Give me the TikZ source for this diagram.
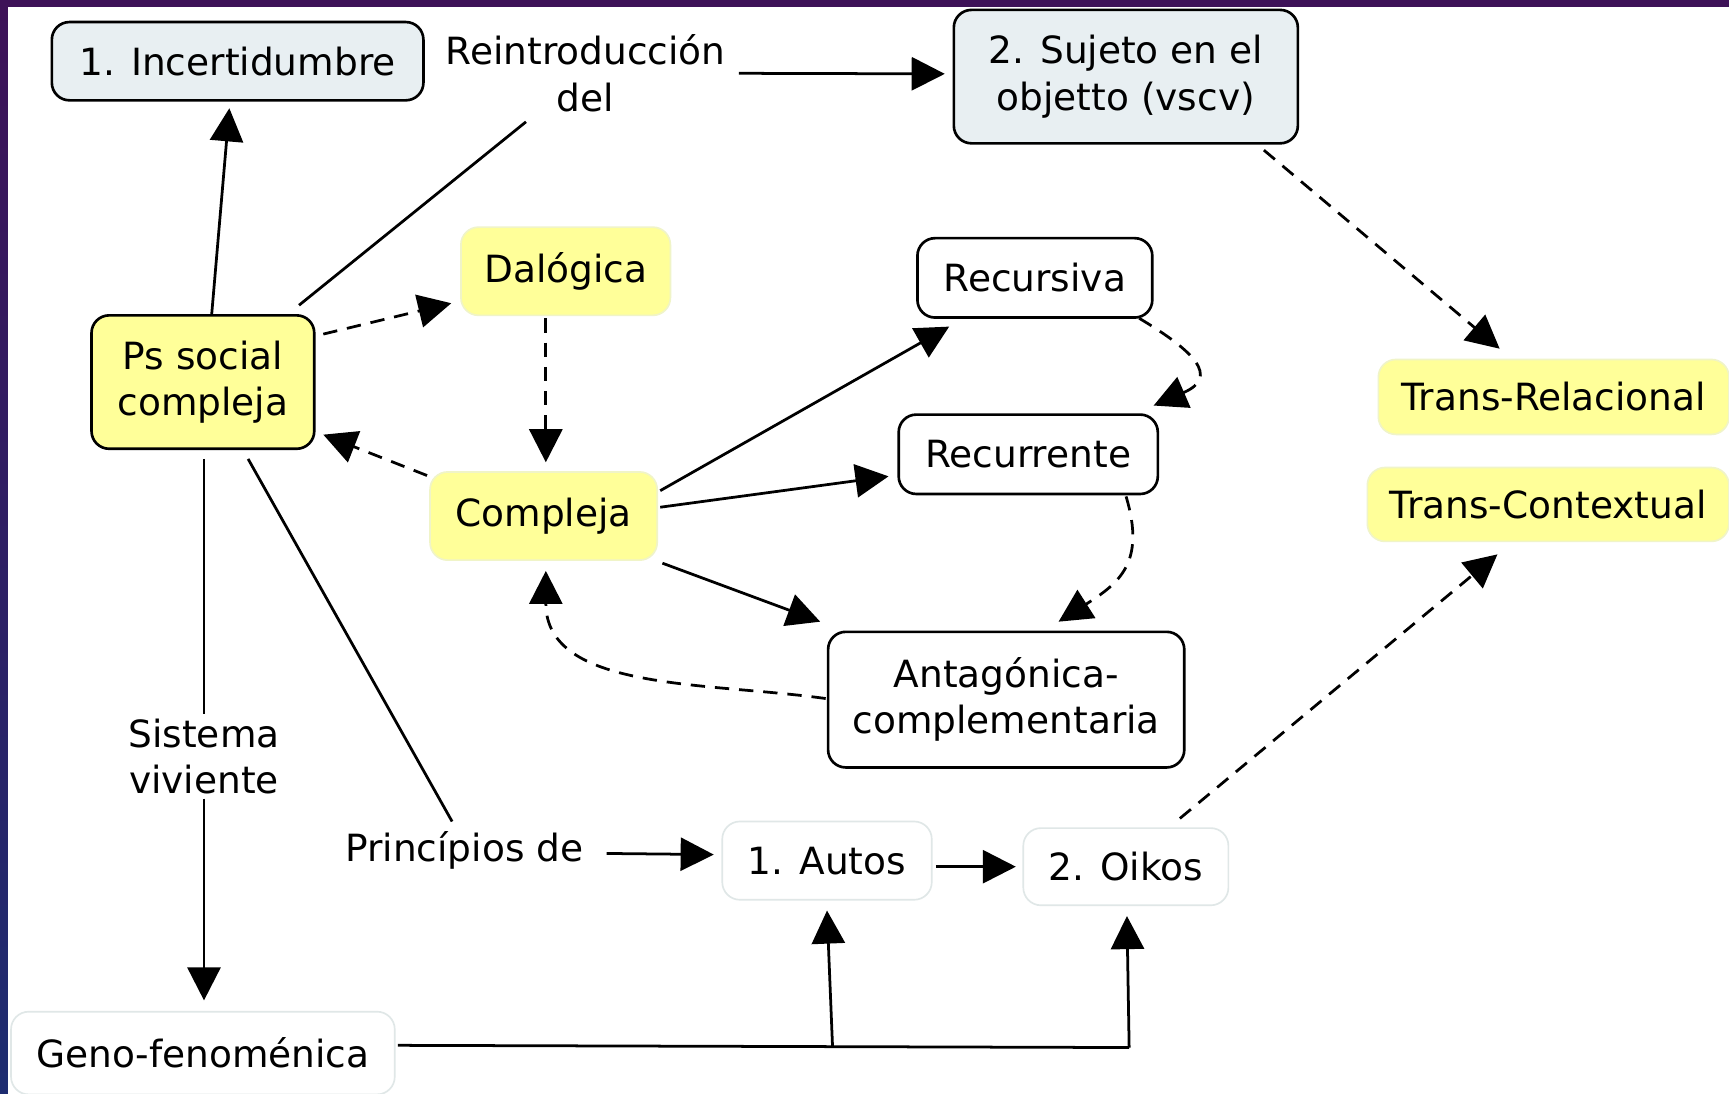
\documentclass[tikz,border=0pt]{standalone}
\usepackage{fontspec}
\setmainfont{DejaVu Sans}
\usetikzlibrary{arrows.meta}
\definecolor{ylw}{RGB}{255,255,153}
\definecolor{ylwedge}{RGB}{240,244,200}
\definecolor{bluegray}{RGB}{232,239,242}
\definecolor{lightedge}{RGB}{224,231,231}
\definecolor{framepurple}{RGB}{62,18,88}
\definecolor{frameblue}{RGB}{30,44,112}
\begin{document}
\begin{tikzpicture}[x=1pt,y=1pt,
  every node/.style={font=\fontsize{34}{42}\selectfont, align=center, inner sep=0pt},
  darkbox/.style={draw=black, line width=2.4pt, rounded corners=16pt},
  bgbox/.style={darkbox, fill=bluegray},
  ybox/.style={darkbox, fill=ylw},
  wbox/.style={darkbox, fill=white},
  softy/.style={fill=ylw, draw=ylwedge, line width=1.5pt, rounded corners=16pt},
  softw/.style={fill=white, draw=lightedge, line width=1.5pt, rounded corners=16pt},
  lbl/.style={inner sep=4pt},
  conn/.style={line width=2.5pt},
  arr/.style={conn, -{Triangle[length=30pt,width=30pt]}},
  darr/.style={arr, dash pattern=on 13pt off 9pt}
]
\useasboundingbox (0,0) rectangle (1568,992);
\shade[top color=framepurple, bottom color=frameblue] (0,0) rectangle (1568,992);
\fill[white] (7.5,0) rectangle (1568,986);

% nodes
\node[bgbox, minimum width=337pt, minimum height=71pt] (inc) at (215.5,936.5) {1. Incertidumbre};
\node[lbl] (reint) at (531,925.5) {Reintroducción\\del};
\node[bgbox, minimum width=312pt, minimum height=121pt] (suj) at (1021,922.5) {2. Sujeto en el\\objetto (vscv)};
\node[ybox, minimum width=202pt, minimum height=121pt] (ps) at (184,645.5) {Ps social\\compleja};
\node[softy, minimum width=190pt, minimum height=80pt] (dal) at (513,746) {Dalógica};
\node[softy, minimum width=206pt, minimum height=80pt] (comp) at (493,524) {Compleja};
\node[wbox, minimum width=213pt, minimum height=72pt] (rcs) at (938.5,740) {Recursiva};
\node[wbox, minimum width=235pt, minimum height=72pt] (rec) at (932.5,580) {Recurrente};
\node[wbox, minimum width=323pt, minimum height=123pt] (ant) at (912.5,357.5) {Antagónica-\\complementaria};
\node[softy, minimum width=318pt, minimum height=68pt] (trel) at (1409,632) {Trans-Relacional};
\node[softy, minimum width=328pt, minimum height=67pt] (tcon) at (1404,534.5) {Trans-Contextual};
\node[softw, minimum width=190pt, minimum height=71pt] (autos) at (750,211.5) {1. Autos};
\node[softw, minimum width=186pt, minimum height=70pt] (oikos) at (1021,206) {2. Oikos};
\node[softw, minimum width=348pt, minimum height=75pt] (geno) at (184,37) {Geno-fenoménica};
\node[lbl] (sist) at (185,306) {Sistema\\viviente};
\node[lbl] (princ) at (421,221) {Princípios de};

% connectors
\draw[arr] ([shift={(8,0)}]ps.north) -- ([shift={(-7.5,-6)}]inc.south);
\draw[conn] ([shift={(-15,8)}]ps.north east) -- ([shift={(-54,-44)}]reint.center);
\draw[arr] ([shift={(139,0)}]reint.center) -- ([shift={(-7,2.5)}]suj.west);
\draw[darr] ([shift={(-32,-5)}]suj.south east) -- ([shift={(-49,9)}]trel.north);
\draw[darr] ([shift={(7,43.5)}]ps.east) -- ([shift={(-8,-29)}]dal.west);
\draw[darr] ([shift={(-18,-2)}]dal.south) -- ([shift={(2,8)}]comp.north);
\draw[darr] ([shift={(-2,-4)}]comp.north west) -- ([shift={(7,14)}]ps.south east);
\draw[arr] ([shift={(2,23)}]comp.east) -- ([shift={(30,-7)}]rcs.south west);
\draw[arr] ([shift={(2,8)}]comp.east) -- ([shift={(-8,-20)}]rec.west);
\draw[arr] ([shift={(4,-2)}]comp.south east) -- ([shift={(-6,8)}]ant.north west);
\draw[darr] ([shift={(-13,0.5)}]rcs.south east) .. controls +(50,-30) and +(60,26) .. ([shift={(-5,7)}]rec.north east);
\draw[darr] ([shift={(-30,-1)}]rec.south east) .. controls +(18,-60) and +(55,35) .. ([shift={(47.5,8)}]ant.north);
\draw[darr] ([shift={(-1,1)}]ant.west) to[out=172,in=-90] ([shift={(2,-9)}]comp.south);
\draw[conn] ([shift={(1,-8)}]ps.south) -- (sist.north);
\draw[arr] (sist.south) -- ([shift={(1,9.5)}]geno.north);
\draw[conn] ([shift={(41,-8)}]ps.south) -- ([shift={(-11,26)}]princ.center);
\draw[arr] ([shift={(17,-3)}]princ.east) -- ([shift={(-7,5.5)}]autos.west);
\draw[arr] ([shift={(3,-5.5)}]autos.east) -- ([shift={(-6,0)}]oikos.west);
\draw[darr] ([shift={(49,8)}]oikos.north) -- ([shift={(-46,-11)}]tcon.south);
\coordinate (j1) at (755,43);
\coordinate (j2) at (1024,42);
\draw[conn] ([shift={(2,7)}]geno.east) -- (j2);
\draw[arr] (j1) -- ([shift={(0,-9)}]autos.south);
\draw[arr] (j2) -- ([shift={(1,-9)}]oikos.south);
\end{tikzpicture}
\end{document}
